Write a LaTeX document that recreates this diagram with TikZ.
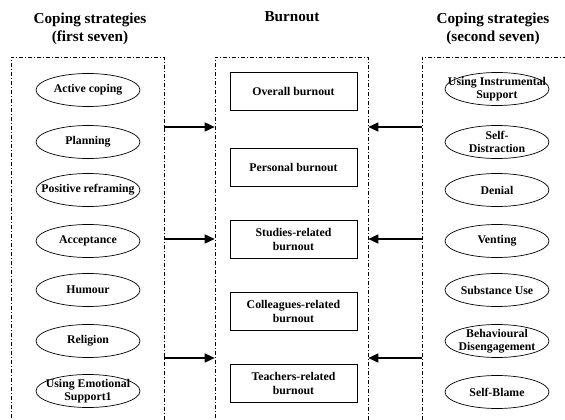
\documentclass[tikz,border=0pt]{standalone}
\usepackage{fontspec}
\setmainfont{Liberation Serif}
\usetikzlibrary{arrows.meta,shapes.geometric}
\tikzset{
  grp/.style={draw, line width=0.6pt, dash pattern=on 4pt off 2pt on 1pt off 2pt, minimum width=#1, minimum height=390pt, inner sep=0, anchor=north},
  ell/.style={draw, ellipse, line width=0.7pt, minimum width=104pt, minimum height=33pt, inner sep=0},
  lbl/.style={align=center, inner sep=0, font=\bfseries\fontsize{11.8}{13.5}\selectfont},
  bbox/.style={draw, line width=0.7pt, minimum width=127pt, minimum height=38pt, inner sep=0, align=center, font=\bfseries\fontsize{11.8}{14}\selectfont},
  ttl/.style={align=center, inner sep=0, font=\bfseries\fontsize{15.2}{17.5}\selectfont},
  arr/.style={line width=1.5pt, -{Triangle[length=10pt,width=9pt]}}
}
\begin{document}
\begin{tikzpicture}[x=1pt,y=-1pt]
\useasboundingbox (0,0) rectangle (565,420);
\clip (0,0) rectangle (565,420);
% titles
\node[ttl] (t1) at (90,29) {Coping strategies\\(first seven)};
\node[ttl] (t2) at (292,17) {Burnout};
\node[ttl] (t3) at (493,29) {Coping strategies\\(second seven)};
% group boxes
\node[grp=153pt] (L) at (87.5,57) {};
\node[grp=153pt] (M) at (291.5,57) {};
\node[grp=170pt] (R) at (507,57) {};
% left ellipses
\foreach \i/\y/\t in {1/90/{Active coping},2/142/{Planning},3/190/{Positive reframing},4/241/{Acceptance},5/290/{Humour},6/341/{Religion},7/391/{Using Emotional\\Support1}}{
  \node[ell] (l\i) at (88,\y) {};
  \node[lbl] (lt\i) at (l\i) {\t};
}
% right ellipses
\foreach \i/\y/\t in {1/89/{Using Instrumental\\Support},2/142/{Self-\\Distraction},3/190/{Denial},4/241/{Venting},5/290/{Substance Use},6/341/{Behavioural\\Disengagement},7/392/{Self-Blame}}{
  \node[ell] (r\i) at (497,\y) {};
  \node[lbl] (rt\i) at (r\i) {\t};
}
% burnout boxes
\node[bbox] (b1) at (293.5,91) {Overall burnout};
\node[bbox] (b2) at (293.5,167) {Personal burnout};
\node[bbox] (b3) at (293.5,239) {Studies-related\\burnout};
\node[bbox] (b4) at (293.5,311) {Colleagues-related\\burnout};
\node[bbox] (b5) at (293.5,383) {Teachers-related\\burnout};
% arrow levels
\coordinate (y1) at (0,127);
\coordinate (y2) at (0,239);
\coordinate (y3) at (0,358);
\foreach \k in {1,2,3}{
  \draw[arr] (L.east |- y\k) -- (M.west |- y\k);
  \draw[arr] (R.west |- y\k) -- (M.east |- y\k);
}
\end{tikzpicture}
\end{document}
